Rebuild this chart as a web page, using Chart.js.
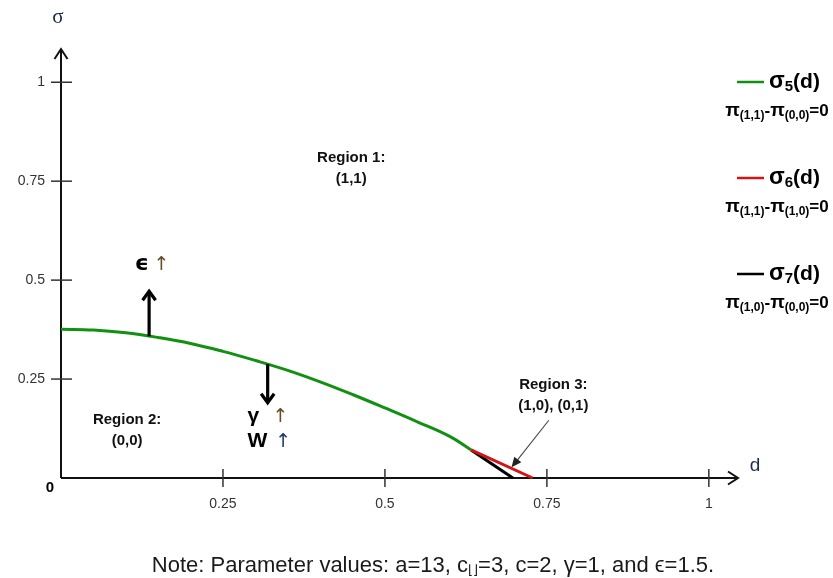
<!DOCTYPE html>
<html><head><meta charset="utf-8">
<script src="https://cdn.jsdelivr.net/npm/chart.js@4.4.1/dist/chart.umd.min.js"></script>
<style>html,body{margin:0;padding:0;background:#fff;}#wrap{width:833px;height:578px;position:relative;}</style>
</head><body><div id="wrap"><canvas id="c" width="833" height="578"></canvas></div>
<script>
// ---- data ----
const sigma5D = [0, 0.05, 0.1, 0.15, 0.2, 0.25, 0.3, 0.35, 0.4, 0.45, 0.5, 0.55, 0.6, 0.633];
const sigma5  = [0.376, 0.374, 0.367, 0.355, 0.34, 0.32, 0.297, 0.272, 0.243, 0.211, 0.177, 0.142, 0.105, 0.071];
const sigma6D = [0.633, 0.728];
const sigma6  = [0.071, 0];
const sigma7D = [0.633, 0.6975];
const sigma7  = [0.071, 0];
const xTicks = [0.25, 0.5, 0.75, 1];
const xTickLabels = ['0.25', '0.5', '0.75', '1'];
const yTicks = [0.25, 0.5, 0.75, 1];
const yTickLabels = ['0.25', '0.5', '0.75', '1'];
const regionLabels = [['Region 1:', '(1,1)'], ['Region 2:', '(0,0)'], ['Region 3:', '(1,0), (0,1)']];
const regionAt = [[0.448, 0.81], [0.102, 0.148], [0.76, 0.235]];
const noteText = ['Note: Parameter values: a=13, c', '\u230A\u230B', '=3, c=2, \u03B3=1, and \u03F5=1.5.'];

const GREEN = '#119011', RED = '#d21414', BLACK = '#000000';
const pts = (xs, ys) => xs.map((x, i) => ({x: x, y: ys[i]}));

function rich(ctx, x, y, parts, align) {
  let w = 0;
  parts.forEach(p => { ctx.font = p.f; w += ctx.measureText(p.t).width; });
  let cx = align === 'center' ? x - w / 2 : (align === 'right' ? x - w : x);
  ctx.textAlign = 'left'; ctx.textBaseline = 'middle';
  parts.forEach(p => { ctx.font = p.f; ctx.fillStyle = p.c || '#000'; ctx.fillText(p.t, cx, y + (p.dy || 0)); cx += ctx.measureText(p.t).width; });
}
function arrowHead(ctx, tx, ty, ang, len, half) {
  ctx.beginPath();
  ctx.moveTo(tx - len * Math.cos(ang) + half * Math.sin(ang), ty - len * Math.sin(ang) - half * Math.cos(ang));
  ctx.lineTo(tx, ty);
  ctx.lineTo(tx - len * Math.cos(ang) - half * Math.sin(ang), ty - len * Math.sin(ang) + half * Math.cos(ang));
  ctx.stroke();
}
function filledHead(ctx, tx, ty, ang, len, half) {
  ctx.beginPath();
  ctx.moveTo(tx, ty);
  ctx.lineTo(tx - len * Math.cos(ang) + half * Math.sin(ang), ty - len * Math.sin(ang) - half * Math.cos(ang));
  ctx.lineTo(tx - len * Math.cos(ang) - half * Math.sin(ang), ty - len * Math.sin(ang) + half * Math.cos(ang));
  ctx.closePath(); ctx.fill();
}

const axesPlugin = {
  id: 'axesPlugin',
  beforeDatasetsDraw(chart) {
    const ctx = chart.ctx, a = chart.chartArea, xs = chart.scales.x, ys = chart.scales.y;
    const ox = xs.getPixelForValue(0), oy = ys.getPixelForValue(0);
    ctx.save();
    ctx.strokeStyle = '#111'; ctx.lineWidth = 2; ctx.lineCap = 'butt';
    ctx.beginPath(); ctx.moveTo(ox, oy); ctx.lineTo(a.right - 1, oy); ctx.stroke();
    ctx.beginPath(); ctx.moveTo(ox, oy); ctx.lineTo(ox, a.top + 1); ctx.stroke();
    ctx.lineJoin = 'miter';
    arrowHead(ctx, a.right, oy, 0, 10, 6.5);
    arrowHead(ctx, ox, a.top, -Math.PI / 2, 10, 6.5);
    ctx.strokeStyle = '#333'; ctx.lineWidth = 1.5;
    xTicks.forEach(v => { const p = xs.getPixelForValue(v); ctx.beginPath(); ctx.moveTo(p, oy - 9); ctx.lineTo(p, oy + 9); ctx.stroke(); });
    yTicks.forEach(v => { const p = ys.getPixelForValue(v); ctx.beginPath(); ctx.moveTo(ox - 10, p); ctx.lineTo(ox + 11, p); ctx.stroke(); });
    ctx.restore();
  },
  afterDraw(chart) {
    const ctx = chart.ctx, xs = chart.scales.x, ys = chart.scales.y, a = chart.chartArea;
    const X = v => xs.getPixelForValue(v), Y = v => ys.getPixelForValue(v);
    ctx.save();
    // axis names
    ctx.fillStyle = '#1c2c4c'; ctx.textAlign = 'center'; ctx.textBaseline = 'middle';
    ctx.font = '21px "Liberation Serif"'; ctx.fillText('\u03C3', X(0) - 3, 17);
    ctx.font = '19px "Liberation Sans"'; ctx.fillText('d', a.right + 17, Y(0) - 12);
    ctx.fillStyle = '#000'; ctx.font = 'bold 15px "Liberation Sans"'; ctx.fillText('0', X(0) - 11, Y(0) + 10);
    // region labels
    ctx.font = 'bold 15px "Liberation Sans"'; ctx.fillStyle = '#111';
    regionLabels.forEach((r, i) => {
      const px = X(regionAt[i][0]), py = Y(regionAt[i][1]);
      ctx.fillText(r[0], px, py); ctx.fillText(r[1], px, py + 21);
    });
    // thick annotation arrows
    ctx.strokeStyle = '#000'; ctx.lineWidth = 3.2; ctx.lineJoin = 'miter';
    const up = [0.136, 0.358, 0.472], dn = [0.319, 0.288, 0.19];
    ctx.beginPath(); ctx.moveTo(X(up[0]), Y(up[1])); ctx.lineTo(X(up[0]), Y(up[2]) + 1); ctx.stroke();
    arrowHead(ctx, X(up[0]), Y(up[2]), -Math.PI / 2, 9, 6.5);
    ctx.beginPath(); ctx.moveTo(X(dn[0]), Y(dn[1])); ctx.lineTo(X(dn[0]), Y(dn[2]) - 1); ctx.stroke();
    arrowHead(ctx, X(dn[0]), Y(dn[2]), Math.PI / 2, 9, 6.5);
    // epsilon, gamma, W labels
    rich(ctx, X(0.114), Y(0.539), [{t: '\u03F5', f: 'bold 22px "DejaVu Sans"'}, {t: ' ', f: '16px "Liberation Sans"'}, {t: '\u2191', f: '19px "DejaVu Sans"', c: '#6b4a2a'}], 'left');
    rich(ctx, X(0.288), Y(0.155), [{t: '\u03B3', f: 'bold 21px "Liberation Sans"'}, {t: '   ', f: '16px "Liberation Sans"'}, {t: '\u2191', f: '19px "DejaVu Sans"', c: '#6b4a2a'}], 'left');
    rich(ctx, X(0.288), Y(0.092), [{t: 'W', f: 'bold 21px "Liberation Sans"'}, {t: '  ', f: '14px "Liberation Sans"'}, {t: '\u2191', f: '19px "DejaVu Sans"', c: '#1f3a6e'}], 'left');
    // Region 3 pointer
    ctx.strokeStyle = '#444'; ctx.fillStyle = '#222'; ctx.lineWidth = 1.1;
    const p0 = [X(0.753), Y(0.146)], p1 = [X(0.6955), Y(0.027)];
    const ang = Math.atan2(p1[1] - p0[1], p1[0] - p0[0]);
    ctx.beginPath(); ctx.moveTo(p0[0], p0[1]); ctx.lineTo(p1[0] - 8 * Math.cos(ang), p1[1] - 8 * Math.sin(ang)); ctx.stroke();
    filledHead(ctx, p1[0], p1[1], ang, 10, 4.5);
    // legend
    const leg = [[GREEN, '5', '(1,1)', '(0,0)', 82], [RED, '6', '(1,1)', '(1,0)', 178], [BLACK, '7', '(1,0)', '(0,0)', 274]];
    leg.forEach(l => {
      ctx.strokeStyle = l[0]; ctx.lineWidth = 2.5;
      ctx.beginPath(); ctx.moveTo(737, l[4]); ctx.lineTo(764, l[4]); ctx.stroke();
      rich(ctx, 769, l[4], [{t: '\u03C3', f: 'bold 23px "Liberation Sans"'}, {t: l[1], f: 'bold 15px "Liberation Sans"', dy: 5}, {t: '(d)', f: 'bold 21px "Liberation Sans"'}], 'left');
      rich(ctx, 777, l[4] + 29, [{t: '\u03C0', f: 'bold 19px "Liberation Sans"'}, {t: l[2], f: 'bold 12px "Liberation Sans"', dy: 5}, {t: '-', f: 'bold 17px "Liberation Sans"'}, {t: '\u03C0', f: 'bold 19px "Liberation Sans"'}, {t: l[3], f: 'bold 12px "Liberation Sans"', dy: 5}, {t: '=0', f: 'bold 17px "Liberation Sans"'}], 'center');
    });
    // note
    rich(ctx, 433, 566, [{t: noteText[0], f: '22px "Liberation Sans"', c: '#1a1a1a'}, {t: noteText[1], f: '13px "DejaVu Sans"', c: '#1a1a1a', dy: 5}, {t: noteText[2], f: '22px "Liberation Sans"', c: '#1a1a1a'}], 'center');
    ctx.restore();
  }
};

new Chart(document.getElementById('c'), {
  type: 'line',
  data: {
    datasets: [
      {label: 'sigma5', data: pts(sigma5D, sigma5), borderColor: GREEN, borderWidth: 3, pointRadius: 0, tension: 0.4, clip: false},
      {label: 'sigma6', data: pts(sigma6D, sigma6), borderColor: RED, borderWidth: 3, pointRadius: 0, clip: false},
      {label: 'sigma7', data: pts(sigma7D, sigma7), borderColor: BLACK, borderWidth: 3, pointRadius: 0, clip: false}
    ]
  },
  options: {
    responsive: false, animation: false, devicePixelRatio: 1,
    layout: {padding: {top: 49, right: 95, left: 0, bottom: 0}},
    plugins: {legend: {display: false}, tooltip: {enabled: false}},
    scales: {
      x: {type: 'linear', min: 0, max: 1.045,
        grid: {display: false}, border: {display: false},
        afterBuildTicks: s => { s.ticks = xTicks.map(v => ({value: v})); },
        afterFit: s => { s.height = 100; },
        ticks: {padding: 10, maxRotation: 0, autoSkip: false, color: '#333', font: {family: 'Liberation Sans', size: 14},
          callback: v => xTickLabels[xTicks.indexOf(v)]}},
      y: {type: 'linear', min: 0, max: 1.084,
        grid: {display: false}, border: {display: false},
        afterBuildTicks: s => { s.ticks = yTicks.map(v => ({value: v})); },
        afterFit: s => { s.width = 61; },
        ticks: {padding: 8, autoSkip: false, color: '#333', font: {family: 'Liberation Sans', size: 14},
          callback: v => yTickLabels[yTicks.indexOf(v)]}}
    }
  },
  plugins: [axesPlugin]
});
</script></body></html>
